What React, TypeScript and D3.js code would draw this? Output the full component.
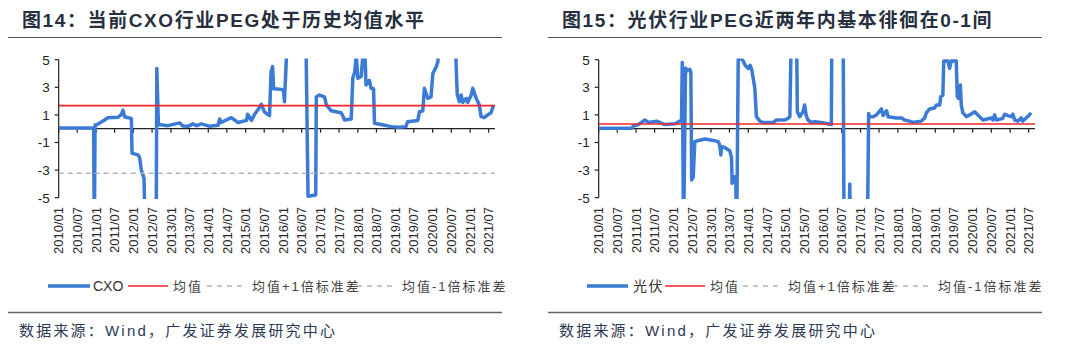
import React from 'react';
import * as d3 from 'd3';

const LATIN = "'Liberation Sans', Arial, 'Noto Sans CJK SC', sans-serif";
const CJK = "'Liberation Sans', 'Noto Sans CJK SC', sans-serif";

// CXO industry PEG (values beyond +/-5 are clipped)
const cxoDates = [
  '2010-01-01', '2010-12-08', '2010-12-15', '2010-12-22', '2011-01-05', '2011-03-25', '2011-04-27',
  '2011-08-03', '2011-09-06', '2011-09-21', '2011-10-07', '2011-11-27', '2011-12-12', '2011-12-18',
  '2012-02-16', '2012-03-03', '2012-03-18', '2012-04-13', '2012-04-27', '2012-08-10', '2012-08-16',
  '2012-09-01', '2012-12-04', '2013-03-27', '2013-04-28', '2013-06-16', '2013-08-04', '2013-09-07',
  '2013-10-25', '2014-01-16', '2014-04-07', '2014-04-22', '2014-05-07', '2014-08-13', '2014-10-18',
  '2015-01-10', '2015-01-19', '2015-02-27', '2015-03-29', '2015-05-01', '2015-06-03', '2015-07-04',
  '2015-08-22', '2015-09-06', '2015-09-21', '2015-10-01', '2015-12-18', '2016-01-06', '2016-01-15',
  '2016-02-05', '2016-02-10', '2016-08-09', '2016-09-01', '2016-11-15', '2016-11-21', '2016-12-22',
  '2017-02-09', '2017-02-27', '2017-04-15', '2017-07-21', '2017-08-06', '2017-08-24', '2017-10-28',
  '2017-11-12', '2017-12-01', '2017-12-16', '2018-01-01', '2018-02-03', '2018-02-18', '2018-03-12',
  '2018-03-21', '2018-04-24', '2018-05-09', '2018-06-03', '2018-06-12', '2018-08-16', '2018-11-22',
  '2019-01-25', '2019-04-16', '2019-05-01', '2019-08-09', '2019-08-25', '2019-09-27', '2019-10-12',
  '2019-11-15', '2019-12-16', '2020-01-03', '2020-02-06', '2020-02-21', '2020-03-24', '2020-08-01',
  '2020-08-28', '2020-09-18', '2020-10-06', '2020-10-21', '2020-11-24', '2020-12-09', '2021-01-12',
  '2021-01-27', '2021-03-01', '2021-04-01', '2021-04-18', '2021-05-18', '2021-06-21', '2021-07-24',
  '2021-08-18',
];
const cxoValues = [
  0.05, 0.05, -8, 0.27, 0.27, 0.63, 0.8,
  0.83, 1.04, 1.35, 0.85, 0.78, 0.7, -1.78,
  -1.9, -2.15, -3.0, -3.6, -8, -8, 4.37,
  0.3, 0.22, 0.42, 0.2, 0.17, 0.35, 0.22,
  0.35, 0.17, 0.25, 0.7, 0.45, 0.8, 0.45,
  0.6, 1.05, 0.6, 1.05, 1.37, 1.77, 1.2,
  0.95, 4.13, 4.5, 2.9, 2.85, 2.75, 1.96,
  5.5, 8, 8, -4.9, -4.8, 2.32, 2.44,
  2.3, 1.72, 1.3, 1.15, 0.94, 0.63, 0.7,
  3.65, 4.1, 5.3, 3.65, 3.8, 5.3, 5.3,
  3.17, 3.5, 2.93, 2.9, 0.39, 0.3, 0.15,
  0.1, 0.15, 0.5, 0.6, 1.23, 1.3, 2.93,
  2.2, 2.3, 4.0, 4.5, 4.85, 8, 8,
  2.5, 1.96, 2.44, 1.9, 2.2, 1.9, 2.44,
  2.93, 2.2, 1.72, 0.87, 0.8, 1.0, 1.15,
  1.72,
];
const cxoMean = 1.67;
const cxoStd = 4.9;

// PV industry PEG
const pvDates = [
  '2010-01-01', '2010-11-19', '2010-12-06', '2011-01-24', '2011-03-28', '2011-05-01', '2011-07-21',
  '2011-10-10', '2012-01-16', '2012-03-04', '2012-03-20', '2012-03-27', '2012-04-09', '2012-04-28',
  '2012-05-18', '2012-06-09', '2012-06-19', '2012-06-27', '2012-07-12', '2012-07-28', '2012-09-01',
  '2012-11-04', '2013-01-25', '2013-03-13', '2013-03-28', '2013-04-08', '2013-04-15', '2013-05-16',
  '2013-07-04', '2013-07-21', '2013-07-27', '2013-08-16', '2013-09-01', '2013-09-09', '2013-09-25',
  '2013-11-13', '2013-12-01', '2014-01-01', '2014-01-18', '2014-02-03', '2014-03-06', '2014-03-21',
  '2014-04-24', '2014-05-25', '2014-09-01', '2014-10-04', '2014-12-24', '2015-01-25', '2015-02-11',
  '2015-02-27', '2015-04-16', '2015-04-25', '2015-05-18', '2015-06-19', '2015-07-05', '2015-07-21',
  '2015-08-07', '2015-09-10', '2015-10-12', '2015-12-16', '2016-03-22', '2016-03-28', '2016-07-15',
  '2016-07-24', '2016-09-09', '2016-09-18', '2016-09-28', '2017-03-09', '2017-03-21', '2017-04-01',
  '2017-05-03', '2017-06-06', '2017-07-24', '2017-08-09', '2017-09-12', '2017-09-28', '2017-12-18',
  '2018-02-06', '2018-03-06', '2018-04-24', '2018-05-27', '2018-08-18', '2018-09-19', '2018-10-06',
  '2018-11-07', '2018-12-25', '2019-01-12', '2019-02-13', '2019-02-24', '2019-03-16', '2019-03-25',
  '2019-05-04', '2019-05-21', '2019-06-06', '2019-07-25', '2019-08-04', '2019-08-16', '2019-09-03',
  '2019-09-12', '2019-09-28', '2019-11-01', '2019-12-03', '2020-01-21', '2020-03-09', '2020-04-10',
  '2020-07-01', '2020-07-16', '2020-08-03', '2020-08-19', '2020-10-21', '2020-11-09', '2020-12-10',
  '2021-01-13', '2021-01-28', '2021-02-15', '2021-03-17', '2021-04-19', '2021-05-03', '2021-06-06',
  '2021-07-07', '2021-07-25',
];
const pvValues = [
  0.03, 0.03, 0.2, 0.3, 0.63, 0.45, 0.55,
  0.3, 0.35, 0.55, 0.63, 4.8, -8, 4.4,
  4.2, 4.3, 4.1, -3.72, -3.5, -0.94, -0.85,
  -0.75, -0.85, -0.94, -1.2, -1.9, -1.3, -1.36,
  -1.6, -2.1, -3.96, -3.48, -3.8, -8, 5.3,
  4.9, 4.6, 4.37, 4.6, 4.3, 2.93, 0.87,
  0.55, 0.45, 0.45, 0.63, 0.63, 0.75, 0.87,
  8, 8, 1.23, 0.87, 1.23, 1.72, 0.95,
  0.63, 0.45, 0.5, 0.45, 0.3, 8, 8,
  -8, -8, -4.0, -8, -8, 1.1, 0.87,
  0.87, 1.0, 1.43, 0.95, 1.3, 0.87, 0.78,
  0.78, 0.63, 0.55, 0.45, 0.55, 0.78, 1.15,
  1.43, 1.5, 1.72, 1.72, 2.32, 2.44, 4.9,
  4.9, 4.37, 4.9, 4.9, 2.32, 2.2, 3.17,
  1.72, 1.15, 0.87, 1.0, 1.23, 0.87, 0.63,
  0.78, 0.63, 1.0, 0.63, 0.75, 1.05, 0.95,
  0.87, 1.05, 0.63, 0.55, 0.78, 0.55, 0.78,
  1.0, 1.15,
];
const pvMean = 0.34;
const pvStd = 5.8;

const yTicks = [5, 3, 1, -1, -3, -5];
const axisStart = '2010-01-01';
const axisEnd = '2021-09-01';
const lastLabel = '2021-07-02';

const parse = d3.timeParse('%Y-%m-%d');
const fmt = d3.timeFormat('%Y/%m');

const BLUE = '#3b7bd6';
const RED = '#f2262a';
const GRAY = '#b4b4b4';

function Panel({ id, dx, title, name, dates, values, mean, std, leg }) {
  const x = d3.scaleTime().domain([parse(axisStart), parse(axisEnd)]).range([58.7, 495]);
  const y = d3.scaleLinear().domain([-5, 5]).range([197.7, 59.7]);
  const pts = dates.map((d, i) => [parse(d), values[i]]);
  const line = d3.line().x(d => x(d[0])).y(d => y(d[1]));
  const ticks = d3.timeMonth.every(6).range(parse(axisStart), parse(lastLabel));
  const [x0, x1] = x.range();
  const refs = [
    { v: mean, stroke: RED, w: 1.6, dash: null },
    { v: mean + std, stroke: GRAY, w: 1.3, dash: '5,4' },
    { v: mean - std, stroke: GRAY, w: 1.3, dash: '5,4' },
  ];
  const ly = 286;
  return (
    <g transform={`translate(${dx},0)`}>
      <text x={22} y={27} fontFamily={CJK} fontWeight="bold" fontSize={19} letterSpacing={1.6} fill="#27303e">{title}</text>
      <line x1={8} x2={502} y1={37.5} y2={37.5} stroke="#555" strokeWidth={1} />

      <defs>
        <clipPath id={`clip-${id}`}>
          <rect x={x0} y={58.5} width={x1 - x0 + 2} height={140.5} />
        </clipPath>
      </defs>

      {/* y axis */}
      <line x1={x0} x2={x0} y1={y(5)} y2={y(-5)} stroke="#222" strokeWidth={1.2} />
      {yTicks.map(t => (
        <g key={t}>
          <line x1={x0 - 4} x2={x0} y1={y(t)} y2={y(t)} stroke="#222" strokeWidth={1.2} />
          <text x={x0 - 9} y={y(t)} dy="0.36em" textAnchor="end" fontFamily={LATIN} fontSize={13.5} fill="#222">{t}</text>
        </g>
      ))}

      {/* x axis at zero */}
      <line x1={x0} x2={x1} y1={y(0)} y2={y(0)} stroke="#222" strokeWidth={1.2} />
      {ticks.map(t => (
        <g key={+t}>
          <line x1={x(t)} x2={x(t)} y1={y(0)} y2={y(0) + 4} stroke="#222" strokeWidth={1.2} />
          <text transform={`translate(${x(t)},207) rotate(-90)`} dy="0.36em" textAnchor="end" fontFamily={LATIN} fontSize={13} fill="#2a2a2a">{fmt(t)}</text>
        </g>
      ))}

      <g clipPath={`url(#clip-${id})`}>
        <path d={line(pts)} fill="none" stroke={BLUE} strokeWidth={3.5} strokeLinejoin="round" />
        {refs.map((r, i) => (
          <line key={i} x1={x0} x2={x1} y1={y(r.v)} y2={y(r.v)} stroke={r.stroke} strokeWidth={r.w} strokeDasharray={r.dash || undefined} />
        ))}
      </g>

      {/* legend */}
      <line x1={leg[0]} x2={leg[1]} y1={ly} y2={ly} stroke={BLUE} strokeWidth={3.5} />
      <text x={leg[2]} y={ly} dy="0.36em" fontFamily={CJK} fontSize={14} fill="#333" letterSpacing={name === 'CXO' ? 0 : 1.5}>{name}</text>
      <line x1={leg[3]} x2={leg[4]} y1={ly} y2={ly} stroke={RED} strokeWidth={1.6} />
      <text x={leg[5]} y={ly} dy="0.36em" fontFamily={CJK} fontSize={13} fill="#444" letterSpacing={2}>均值</text>
      <line x1={leg[6]} x2={leg[7]} y1={ly} y2={ly} stroke={GRAY} strokeWidth={1.3} strokeDasharray="5,5" />
      <text x={leg[8]} y={ly} dy="0.36em" fontFamily={CJK} fontSize={13} fill="#444" letterSpacing={2}>均值+1倍标准差</text>
      <line x1={leg[9]} x2={leg[10]} y1={ly} y2={ly} stroke={GRAY} strokeWidth={1.3} strokeDasharray="5,5" />
      <text x={leg[11]} y={ly} dy="0.36em" fontFamily={CJK} fontSize={13} fill="#444" letterSpacing={2}>均值-1倍标准差</text>

      <line x1={8} x2={502} y1={312.5} y2={312.5} stroke="#666" strokeWidth={1.3} />
      <text x={19} y={336} fontFamily={CJK} fontSize={15} letterSpacing={2.2} fill="#2d3a55">数据来源：Wind，广发证券发展研究中心</text>
    </g>
  );
}

export default function App() {
  return (
    <svg width={1080} height={351} style={{ position: 'absolute', left: 0, top: 0, background: '#fff' }}>
      <rect width={1080} height={351} fill="#fff" />
      <Panel
        id="cxo"
        dx={0}
        title="图14：当前CXO行业PEG处于历史均值水平"
        name="CXO"
        dates={cxoDates}
        values={cxoValues}
        mean={cxoMean}
        std={cxoStd}
        leg={[48, 90, 93, 128, 168, 173, 207, 245, 252, 357, 395, 402]}
      />
      <Panel
        id="pv"
        dx={540}
        title="图15：光伏行业PEG近两年内基本徘徊在0-1间"
        name="光伏"
        dates={pvDates}
        values={pvValues}
        mean={pvMean}
        std={pvStd}
        leg={[47, 88, 93, 125, 165, 170, 203, 240, 248, 353, 390, 398]}
      />
    </svg>
  );
}
